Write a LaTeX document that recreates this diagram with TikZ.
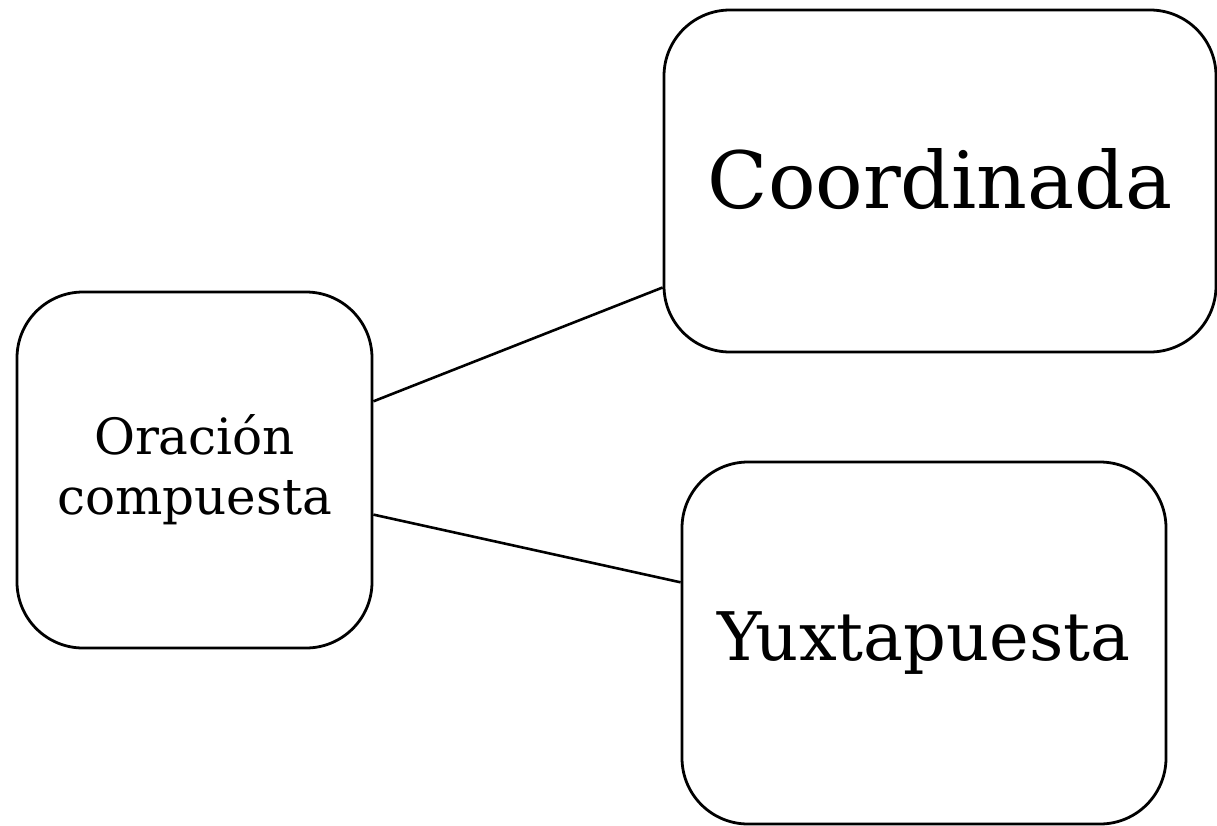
\documentclass[tikz,border=0pt]{standalone}
\usepackage{fontspec}
\setmainfont{DejaVu Serif}
\begin{document}
\begin{tikzpicture}[x=1pt,y=-1pt,
  box/.style={draw=black, line width=2.8pt, rounded corners=66pt, inner sep=0pt, align=center},
  link/.style={draw=black, line width=2.6pt}]
\useasboundingbox (0,0) rectangle (1217,825);
\node[box, minimum width=355pt, minimum height=356pt, font=\fontsize{50}{60}\selectfont] (L) at (194.5,470) {Oración\\compuesta};
\node[box, minimum width=552pt, minimum height=342pt, font=\fontsize{79}{86}\selectfont] (C) at (940,181) {\raisebox{5pt}{Coordinada}};
\node[box, minimum width=484pt, minimum height=362pt, font=\fontsize{67}{74}\selectfont] (Y) at (924,643) {Yuxtapuesta};
\draw[link] (L.21) -- (C.201.8);
\draw[link] (L.-14.2) -- (Y.166.9);
\end{tikzpicture}
\end{document}
